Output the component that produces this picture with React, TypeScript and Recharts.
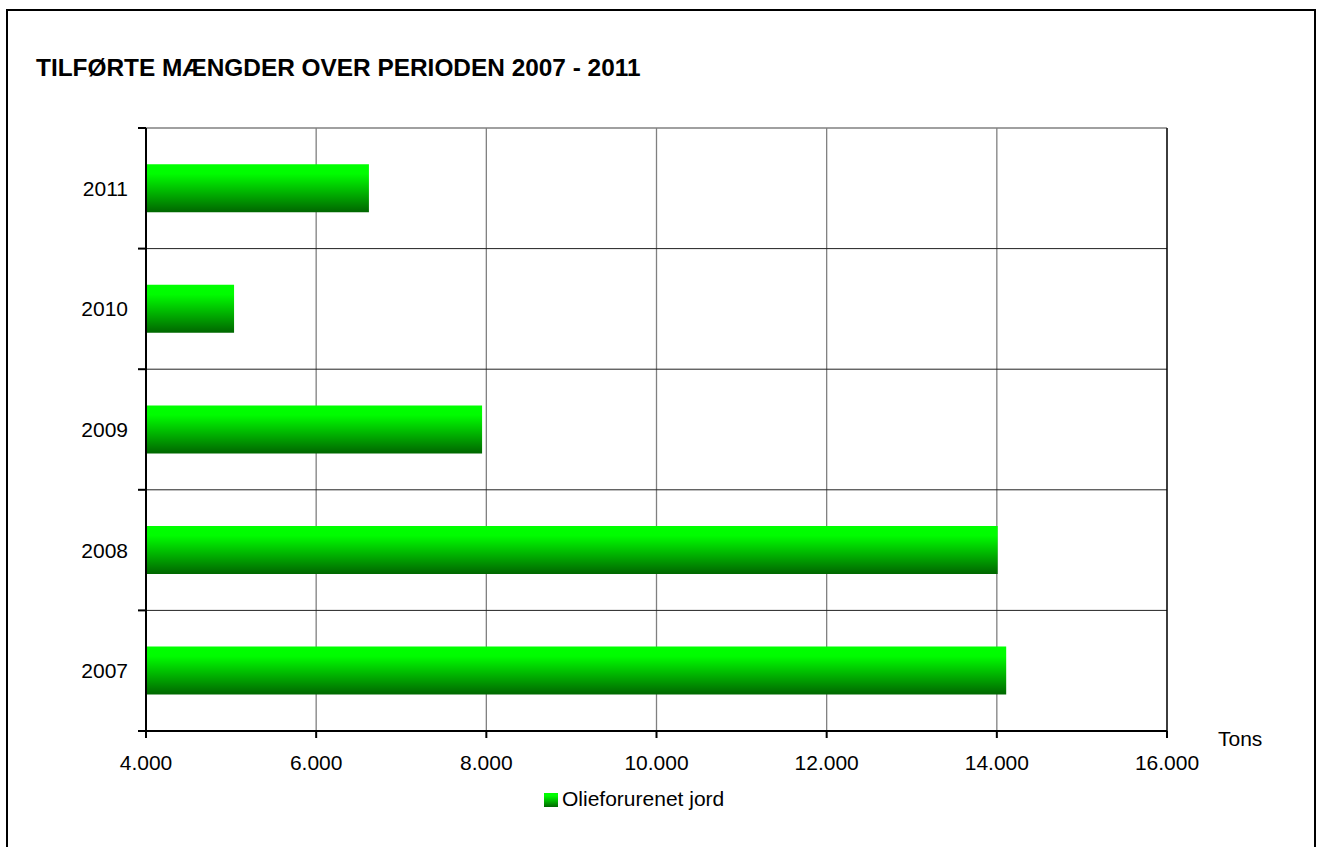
import React from 'react'
import { BarChart, Bar, XAxis, YAxis, CartesianGrid, Legend, ReferenceLine } from 'recharts'

// values (tons)
const years = ['2007', '2008', '2009', '2010', '2011']
const oilSoil = [14110, 14010, 7950, 5035, 6620]
const xTicks = [4000, 6000, 8000, 10000, 12000, 14000, 16000]
const seriesName = 'Olieforurenet jord'

const data = years.map((year, i) => ({ year, value: oilSoil[i] }))

const W = 1317
const H = 847
const PLOT_LEFT = 146
const PLOT_TOP = 128
const PLOT_RIGHT = 1167
const PLOT_BOTTOM = 731
const Y_AXIS_W = 100
const X_AXIS_H = 40
const BAND = (PLOT_BOTTOM - PLOT_TOP) / years.length
const FONT = '"Liberation Sans", Arial, sans-serif'

const fmt = (v: number) => v.toString().replace(/\B(?=(\d{3})+(?!\d))/g, '.')

const YearTick = (props: any) => {
    const { x, y, payload, index } = props
    return (
        <g>
            <line x1={PLOT_LEFT - 8} x2={PLOT_LEFT} y1={y - BAND / 2} y2={y - BAND / 2} stroke="#000" strokeWidth={2} />
            {index === 0 && (
                <line x1={PLOT_LEFT - 8} x2={PLOT_LEFT} y1={y + BAND / 2} y2={y + BAND / 2} stroke="#000" strokeWidth={2} />
            )}
            <text x={x} y={y} dy="0.355em" textAnchor="end" fontSize={21} fill="#000" fontFamily={FONT}>
                {payload.value}
            </text>
        </g>
    )
}

const App = () => {
    return (
        <div style={{ position: 'absolute', left: 0, top: 0, width: W, height: H, background: '#fff', overflow: 'hidden', fontFamily: FONT }}>
            <div style={{ position: 'absolute', left: 6, top: 9, width: 1306, height: 900, borderLeft: '2px solid #000', borderTop: '2px solid #000', borderRight: '2px solid #000' }} />
            <div style={{ position: 'absolute', left: 36, top: 56, fontSize: 24.4, lineHeight: '24px', fontWeight: 'bold', color: '#000', whiteSpace: 'nowrap' }}>
                TILFØRTE MÆNGDER OVER PERIODEN 2007 - 2011
            </div>
            <div style={{ position: 'absolute', left: 0, top: 0 }}>
                <BarChart
                    width={W}
                    height={H}
                    data={data}
                    layout="vertical"
                    barCategoryGap="30%"
                    margin={{ top: PLOT_TOP, right: W - PLOT_RIGHT, bottom: H - PLOT_BOTTOM - X_AXIS_H, left: PLOT_LEFT - Y_AXIS_W }}
                >
                    <defs>
                        <linearGradient id="greenBar" x1="0" y1="0" x2="0" y2="1">
                            <stop offset="0%" stopColor="#00ff00" />
                            <stop offset="20%" stopColor="#00fc00" />
                            <stop offset="100%" stopColor="#006600" />
                        </linearGradient>
                    </defs>
                    <CartesianGrid
                        stroke="#808080"
                        strokeWidth={1.3}
                        horizontalCoordinatesGenerator={(p: any) => [p?.offset?.top ?? PLOT_TOP]}
                    />
                    <CartesianGrid
                        stroke="#222"
                        vertical={false}
                        horizontalCoordinatesGenerator={(p: any) => {
                            const top = p?.offset?.top ?? PLOT_TOP
                            const h = p?.offset?.height ?? PLOT_BOTTOM - PLOT_TOP
                            return years.slice(1).map((_, i) => top + (h * (i + 1)) / years.length)
                        }}
                    />
                    <XAxis
                        type="number"
                        domain={[4000, 16000]}
                        ticks={xTicks}
                        tickFormatter={fmt}
                        height={X_AXIS_H}
                        axisLine={{ stroke: '#000', strokeWidth: 2 }}
                        tickLine={{ stroke: '#000', strokeWidth: 2 }}
                        tickSize={7}
                        tickMargin={17}
                        tick={{ fill: '#000', fontSize: 21, fontFamily: FONT }}
                        interval={0}
                        label={{ value: 'Tons', position: 'right', offset: 51, dy: -12, fill: '#000', fontSize: 21, fontFamily: FONT }}
                    />
                    <YAxis
                        type="category"
                        dataKey="year"
                        reversed
                        width={Y_AXIS_W}
                        axisLine={{ stroke: '#000', strokeWidth: 2 }}
                        tickLine={false}
                        tickSize={8}
                        tickMargin={10}
                        tick={<YearTick />}
                        interval={0}
                    />
                    <ReferenceLine x={16000} stroke="#000" strokeWidth={1.3} />
                    <Legend
                        layout="horizontal"
                        verticalAlign="middle"
                        align="center"
                        iconType="square"
                        iconSize={14}
                        wrapperStyle={{ top: 787, left: 544, width: 'auto', fontSize: 21, fontFamily: FONT }}
                        formatter={(value) => <span style={{ color: '#000' }}>{value}</span>}
                    />
                    <Bar dataKey="value" name={seriesName} fill="url(#greenBar)" isAnimationActive={false} />
                </BarChart>
            </div>
        </div>
    )
}

export default App
